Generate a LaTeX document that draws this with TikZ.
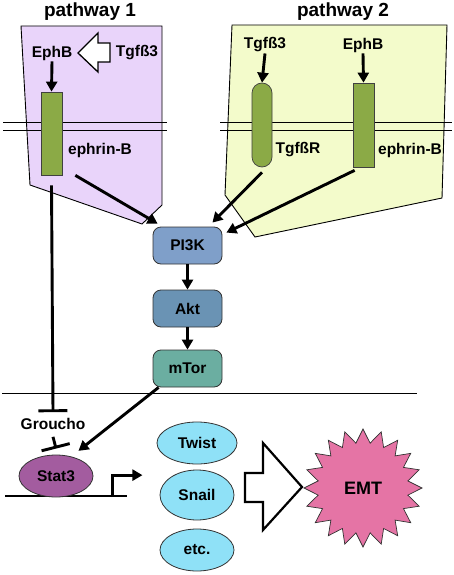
\documentclass[tikz,border=0pt]{standalone}
\usepackage{fontspec}
\setmainfont{Liberation Sans}
\usetikzlibrary{arrows.meta,shapes.geometric,calc}
\definecolor{purp}{HTML}{E9D4FA}
\definecolor{yel}{HTML}{F3FBCB}
\definecolor{grn}{HTML}{8BAA46}
\definecolor{pik}{HTML}{7F9FC9}
\definecolor{akt}{HTML}{6A93B4}
\definecolor{mtor}{HTML}{6BAEA1}
\definecolor{stat}{HTML}{A35C9F}
\definecolor{cyn}{HTML}{8FE1F7}
\definecolor{emt}{HTML}{E574A5}
\begin{document}
\begin{tikzpicture}[x=1pt,y=-1pt,
  lbl/.style={font=\bfseries\fontsize{15.5}{18}\selectfont, inner sep=1pt},
  ttl/.style={font=\bfseries\fontsize{19}{22}\selectfont, inner sep=1pt},
  barbox/.style={draw=black!75, line width=0.7pt, fill=grn, inner sep=0pt},
  kbox/.style={draw=black!80, line width=0.8pt, rounded corners=8pt, minimum width=69pt, minimum height=37pt, inner sep=0pt, font=\bfseries\fontsize{15.5}{18}\selectfont},
  oval/.style={ellipse, draw=black!80, line width=0.8pt, inner sep=0pt, font=\bfseries\fontsize{15.5}{18}\selectfont},
  arr/.style={line width=2.9pt, -{Triangle[length=10pt,width=11pt]}},
  inh/.style={line width=2.9pt, -{Bar[width=29pt]}},
  memb/.style={line width=0.9pt}
]
\useasboundingbox (0,0) rectangle (454,575);

% pathway regions
\draw[fill=purp, line width=0.9pt] (21,26) -- (162,26) -- (162,205) -- (142,224) -- (30,185) -- cycle;
\draw[fill=yel, line width=0.9pt] (232,25) -- (447,25) -- (442,198) -- (255,237) -- (225,195) -- cycle;

% membranes
\draw[memb] (3,122) -- (167,122);
\draw[memb] (3,130) -- (167,130);
\draw[memb] (220,122) -- (452,122);
\draw[memb] (220,130) -- (452,130);

% titles
\node[ttl] (p1) at (90,12) {pathway 1};
\node[ttl] (p2) at (343,12) {pathway 2};

% pathway 1
\node[lbl] (ephb1) at (52,53) {EphB};
\node[lbl] (tgf1) at (137,53) {Tgfß3};
\draw[line width=1.3pt, fill=white, line join=miter] (78,53) -- (98,33) -- (98,43) -- (110,43) -- (110,62) -- (98,62) -- (98,72) -- cycle;
\node[barbox, minimum width=21pt, minimum height=83pt] (eb1) at (51.5,133.5) {};
\node[lbl] (eblbl1) at (100,150) {ephrin-B};
\draw[arr] (ephb1.south) -- (eb1.north);

% pathway 2
\node[lbl] (tgf2) at (265,45) {Tgfß3};
\node[lbl] (ephb2) at (363,45) {EphB};
\node[barbox, rounded corners=10pt, minimum width=20pt, minimum height=84pt] (tgfr) at (262,125) {};
\node[barbox, minimum width=21pt, minimum height=84pt] (eb2) at (363.5,125) {};
\node[lbl] (tgfrlbl) at (298,150) {TgfßR};
\node[lbl] (eblbl2) at (410,150) {ephrin-B};
\draw[arr] (tgf2.south) -- (tgfr.north);
\draw[arr] (ephb2.south) -- (eb2.north);

% kinase cascade
\node[kbox, fill=pik] (pi3k) at (187.5,245.5) {PI3K};
\node[kbox, fill=akt] (akt) at (187.5,308.5) {Akt};
\node[kbox, fill=mtor] (mtor) at (187.5,368.5) {mTor};
\draw[arr] (pi3k) -- (akt);
\draw[arr] (akt) -- (mtor);

\draw[arr] ($(eb1.south east)+(13,0)$) -- ($(pi3k.north west)+(5,-3)$);
\draw[arr] ($(tgfr.south)+(0,5)$) -- ($(pi3k.north east)+(-10,-4)$);
\draw[arr] ($(eb2.south west)+(2,3)$) -- ($(pi3k.north east)+(4,6)$);

% nuclear envelope
\draw[memb] (2,393) -- (417,393);

% nucleus
\node[lbl, inner sep=0pt, text depth=0pt] (groucho) at (53,424) {Groucho};
\draw[inh] ($(eb1.south)+(0,10)$) -- ($(groucho.north)+(0,-6)$);

\draw[line width=2.9pt] (5,496) -- (127,496);
\node[oval, fill=stat, minimum width=74pt, minimum height=42pt] (stat3) at (56,476) {Stat3};
\draw[inh] ($(groucho.south)+(0,7)$) -- ($(stat3.north)+(0,-6)$);
\draw[line width=2.9pt, -{Triangle[length=10pt,width=11pt]}] ($(stat3.south east)+(30,6)$) |- ($(stat3.south east)+(60,-16)$);
\draw[arr] ($(mtor.south west)+(6,0)$) -- ($(stat3.north east)+(-4,-10)$);

\node[oval, fill=cyn, minimum width=80pt, minimum height=42pt] (twist) at (197,443) {Twist};
\node[oval, fill=cyn, minimum width=74pt, minimum height=50pt] (snail) at (197,495) {Snail};
\node[oval, fill=cyn, minimum width=74pt, minimum height=42pt] (etc) at (197,550) {etc.};

\draw[line width=2.2pt, fill=white, line join=miter] (245,473) -- (263,473) -- (263,443) -- (302,487) -- (263,530) -- (263,502) -- (245,502) -- cycle;

\node[star, star points=20, star point ratio=1.3, draw=black!80, line width=0.7pt, fill=emt, minimum size=118pt, inner sep=0pt, font=\bfseries\fontsize{18}{20}\selectfont] (emt) at (363,488) {EMT};
\end{tikzpicture}
\end{document}
